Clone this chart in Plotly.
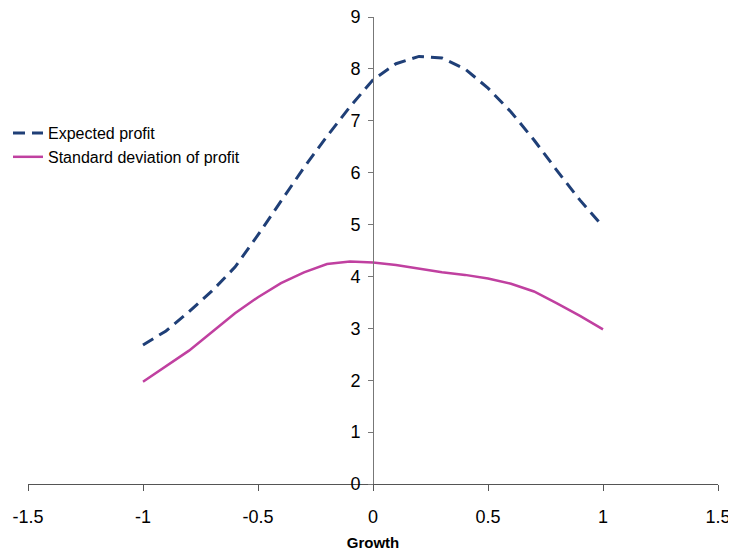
import plotly.graph_objects as go

growth = [-1.0, -0.9, -0.8, -0.7, -0.6, -0.5, -0.4, -0.3, -0.2, -0.1, 0.0,
          0.1, 0.2, 0.3, 0.4, 0.5, 0.6, 0.7, 0.8, 0.9, 1.0]
expected_profit = [2.68, 2.95, 3.32, 3.72, 4.18, 4.80, 5.45, 6.10, 6.70, 7.27, 7.79,
                   8.10, 8.24, 8.21, 8.00, 7.63, 7.17, 6.63, 6.04, 5.47, 4.96]
std_profit = [1.97, 2.27, 2.57, 2.93, 3.29, 3.60, 3.87, 4.08, 4.24, 4.29, 4.27,
              4.22, 4.15, 4.08, 4.03, 3.96, 3.86, 3.71, 3.48, 3.24, 2.98]
x_ticks = [-1.5, -1, -0.5, 0, 0.5, 1, 1.5]
y_ticks = [0, 1, 2, 3, 4, 5, 6, 7, 8, 9]

fig = go.Figure()
fig.add_trace(go.Scatter(x=growth, y=expected_profit, mode="lines",
                         name="Expected profit",
                         line=dict(color="#1F3F77", width=3, dash="12px,7px")))
fig.add_trace(go.Scatter(x=growth, y=std_profit, mode="lines",
                         name="Standard deviation of profit",
                         line=dict(color="#C040A0", width=2.5)))

font = "Liberation Sans, Arial, sans-serif"
fig.update_layout(
    width=728, height=546,
    margin=dict(l=20, r=18, t=9, b=70, autoexpand=False),
    paper_bgcolor="white", plot_bgcolor="white",
    font=dict(family=font, size=16, color="black"),
    showlegend=True,
    legend=dict(xref="container", yref="container",
                x=0.0, y=0.802, xanchor="left", yanchor="top",
                font=dict(size=16, family=font), bgcolor="rgba(0,0,0,0)",
                tracegroupgap=0, itemwidth=30),
    xaxis=dict(range=[-1.5, 1.5], tickvals=x_ticks,
               ticktext=[str(v) for v in x_ticks],
               automargin=False, ticklabeloverflow="allow",
               showgrid=False, zeroline=False, showline=True,
               linecolor="#555555", linewidth=1,
               ticks="outside", ticklen=6, tickcolor="#555555",
               ticklabelstandoff=10,
               tickfont=dict(size=18),
               title=dict(text="<b>Growth</b>", font=dict(size=15), standoff=11)),
    yaxis=dict(range=[0, 9], tickvals=y_ticks,
               anchor="free", position=0.5, automargin=False,
               ticklabeloverflow="allow",
               showgrid=False, zeroline=False, showline=True,
               linecolor="#777777", linewidth=1,
               ticks="outside", ticklen=5, tickcolor="#777777",
               ticklabelstandoff=4,
               tickfont=dict(size=18)),
)

fig.write_html("out.html")
